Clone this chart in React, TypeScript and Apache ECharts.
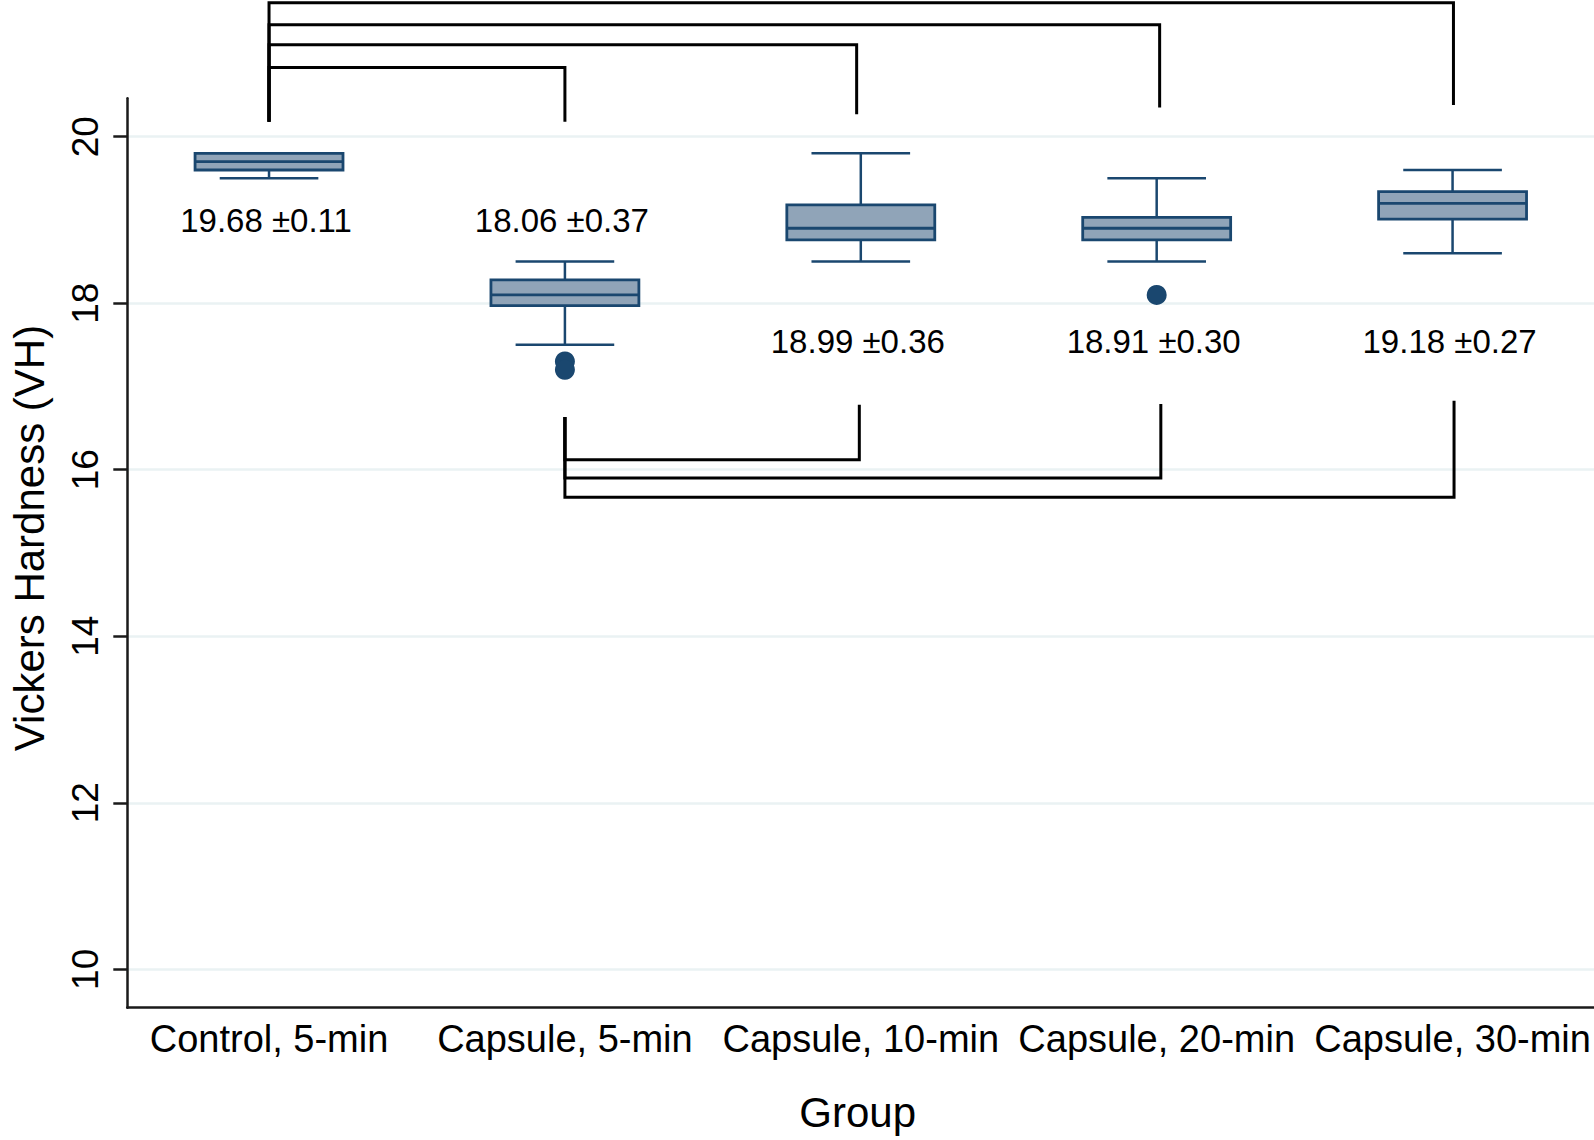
import React, { useEffect, useRef } from "react";
import * as echarts from "echarts";

const categories = ["Control, 5-min", "Capsule, 5-min", "Capsule, 10-min", "Capsule, 20-min", "Capsule, 30-min"];
const categoryPos = [1, 2, 3, 4, 5];
// [min, Q1, median, Q3, max]
const boxStats = [
  [19.5, 19.6, 19.7, 19.8, 19.8],
  [17.5, 17.97, 18.1, 18.28, 18.5],
  [18.5, 18.76, 18.9, 19.18, 19.8],
  [18.5, 18.76, 18.9, 19.03, 19.5],
  [18.6, 19.01, 19.2, 19.34, 19.6],
];
const outliers = [
  [2, 17.3],
  [2, 17.2],
  [4, 18.1],
];
const means = [19.68, 18.06, 18.99, 18.91, 19.18];
const sds = [0.11, 0.37, 0.36, 0.3, 0.27];
const labelY = [18.99, 18.99, 17.54, 17.54, 17.54];
const yTicks = [10, 12, 14, 16, 18, 20];
// [xFrom, xTo, yBar, yFromEnd, yToEnd]
const topBrackets = [
  [1, 2, 20.83, 20.18, 20.18],
  [1, 2.986, 21.105, 20.18, 20.27],
  [1, 4.01, 21.345, 20.18, 20.35],
  [1, 5.003, 21.61, 20.18, 20.38],
];
const bottomBrackets = [
  [2, 2.995, 16.12, 16.633, 16.78],
  [2, 4.014, 15.9, 16.633, 16.79],
  [2, 5.005, 15.67, 16.633, 16.83],
];

const FONT = "'Liberation Sans', Arial, Helvetica, sans-serif";
const NAVY = "#1a476f";
const FILL = "#90a4b8";

export default function App() {
  const ref = useRef<HTMLDivElement>(null);
  useEffect(() => {
    document.body.style.margin = "0";
    const chart = echarts.init(ref.current!, null, { renderer: "svg" });
    const axisLineStyle = { color: "#1a1a1a", width: 2.5 };
    const boxData = categoryPos.map((x, i) => [x, ...boxStats[i]]);
    const labelData = categoryPos.map((x, i) => [x, labelY[i]]);
    const labelTexts = means.map((m, i) => `${m.toFixed(2)} ±${sds[i].toFixed(2)}`);

    const bracketRender = (params: any, api: any) => {
      const x0 = api.value(0), x1 = api.value(1), yb = api.value(2), y0 = api.value(3), y1 = api.value(4);
      const pts = [api.coord([x0, y0]), api.coord([x0, yb]), api.coord([x1, yb]), api.coord([x1, y1])];
      return {
        type: "polyline",
        shape: { points: pts },
        style: { stroke: "#000", lineWidth: 3, fill: "none" },
      };
    };

    chart.setOption({
      animation: false,
      backgroundColor: "#fff",
      grid: { left: 127.3, right: 0, top: 98.3, bottom: 132.3, containLabel: false },
      xAxis: {
        type: "value",
        min: 0.521,
        max: 5.478,
        name: "Group",
        nameLocation: "middle",
        nameGap: 84,
        nameTextStyle: { fontSize: 42, color: "#000", fontFamily: FONT, padding: [0, 6, 0, 0] },
        axisLine: { show: true, onZero: false, lineStyle: axisLineStyle },
        axisTick: { show: false },
        axisLabel: {
          customValues: categoryPos,
          formatter: (v: number) => categories[Math.round(v) - 1] ?? "",
          fontSize: 38,
          color: "#000",
          fontFamily: FONT,
          margin: 12,
        },
        splitLine: { show: false },
      },
      yAxis: {
        type: "value",
        min: 9.539,
        max: 20.461,
        name: "Vickers Hardness (VH)",
        nameLocation: "middle",
        nameRotate: 90,
        nameGap: 77,
        nameTextStyle: { fontSize: 42, color: "#000", fontFamily: FONT, padding: [0, 0, 0, 30] },
        axisLine: { show: true, onZero: false, lineStyle: axisLineStyle },
        axisTick: { show: true, length: 14, lineStyle: { color: "#1a1a1a", width: 2.5 }, customValues: yTicks },
        axisLabel: {
          customValues: yTicks,
          rotate: 90,
          margin: 23,
          fontSize: 37,
          color: "#000",
          fontFamily: FONT,
        },
        splitLine: { show: true, lineStyle: { color: "#eaf2f3", width: 2.5 } },
      },
      series: [
        {
          type: "custom",
          name: "box",
          clip: false,
          encode: { x: 0, y: [1, 2, 3, 4, 5] },
          data: boxData,
          renderItem: (params: any, api: any) => {
            const x = api.value(0);
            const v = [1, 2, 3, 4, 5].map((d) => api.value(d));
            const cx = api.coord([x, v[0]])[0];
            const yMin = api.coord([x, v[0]])[1];
            const yQ1 = api.coord([x, v[1]])[1];
            const yMed = api.coord([x, v[2]])[1];
            const yQ3 = api.coord([x, v[3]])[1];
            const yMax = api.coord([x, v[4]])[1];
            const bw = api.size([0.5, 0])[0];
            const cw = api.size([1 / 3, 0])[0];
            const ls = { stroke: NAVY, lineWidth: 2.5 };
            return {
              type: "group",
              children: [
                { type: "line", shape: { x1: cx, y1: yQ3, x2: cx, y2: yMax }, style: ls },
                { type: "line", shape: { x1: cx - cw / 2, y1: yMax, x2: cx + cw / 2, y2: yMax }, style: ls },
                { type: "line", shape: { x1: cx, y1: yQ1, x2: cx, y2: yMin }, style: ls },
                { type: "line", shape: { x1: cx - cw / 2, y1: yMin, x2: cx + cw / 2, y2: yMin }, style: ls },
                {
                  type: "rect",
                  shape: { x: cx - bw / 2, y: yQ3, width: bw, height: yQ1 - yQ3 },
                  style: { fill: FILL, stroke: NAVY, lineWidth: 2.8 },
                },
                { type: "line", shape: { x1: cx - bw / 2, y1: yMed, x2: cx + bw / 2, y2: yMed }, style: { stroke: NAVY, lineWidth: 2.8 } },
              ],
            };
          },
        },
        {
          type: "scatter",
          name: "outliers",
          data: outliers,
          symbol: "circle",
          symbolSize: 20,
          itemStyle: { color: NAVY, opacity: 1 },
        },
        {
          type: "custom",
          name: "labels",
          clip: false,
          encode: { x: 0, y: 1 },
          data: labelData,
          renderItem: (params: any, api: any) => {
            const p = api.coord([api.value(0), api.value(1)]);
            return {
              type: "text",
              x: p[0] - 3,
              y: p[1],
              style: {
                text: labelTexts[params.dataIndex],
                fontSize: 33,
                fontFamily: FONT,
                fill: "#000",
                align: "center",
                verticalAlign: "middle",
              },
            };
          },
        },
        {
          type: "custom",
          name: "topBrackets",
          clip: false,
          encode: { x: [0, 1], y: [2, 3, 4] },
          data: topBrackets,
          renderItem: bracketRender,
        },
        {
          type: "custom",
          name: "bottomBrackets",
          clip: false,
          encode: { x: [0, 1], y: [2, 3, 4] },
          data: bottomBrackets,
          renderItem: bracketRender,
        },
      ],
    });
    return () => chart.dispose();
  }, []);
  return <div ref={ref} style={{ width: 1594, height: 1140 }} />;
}
